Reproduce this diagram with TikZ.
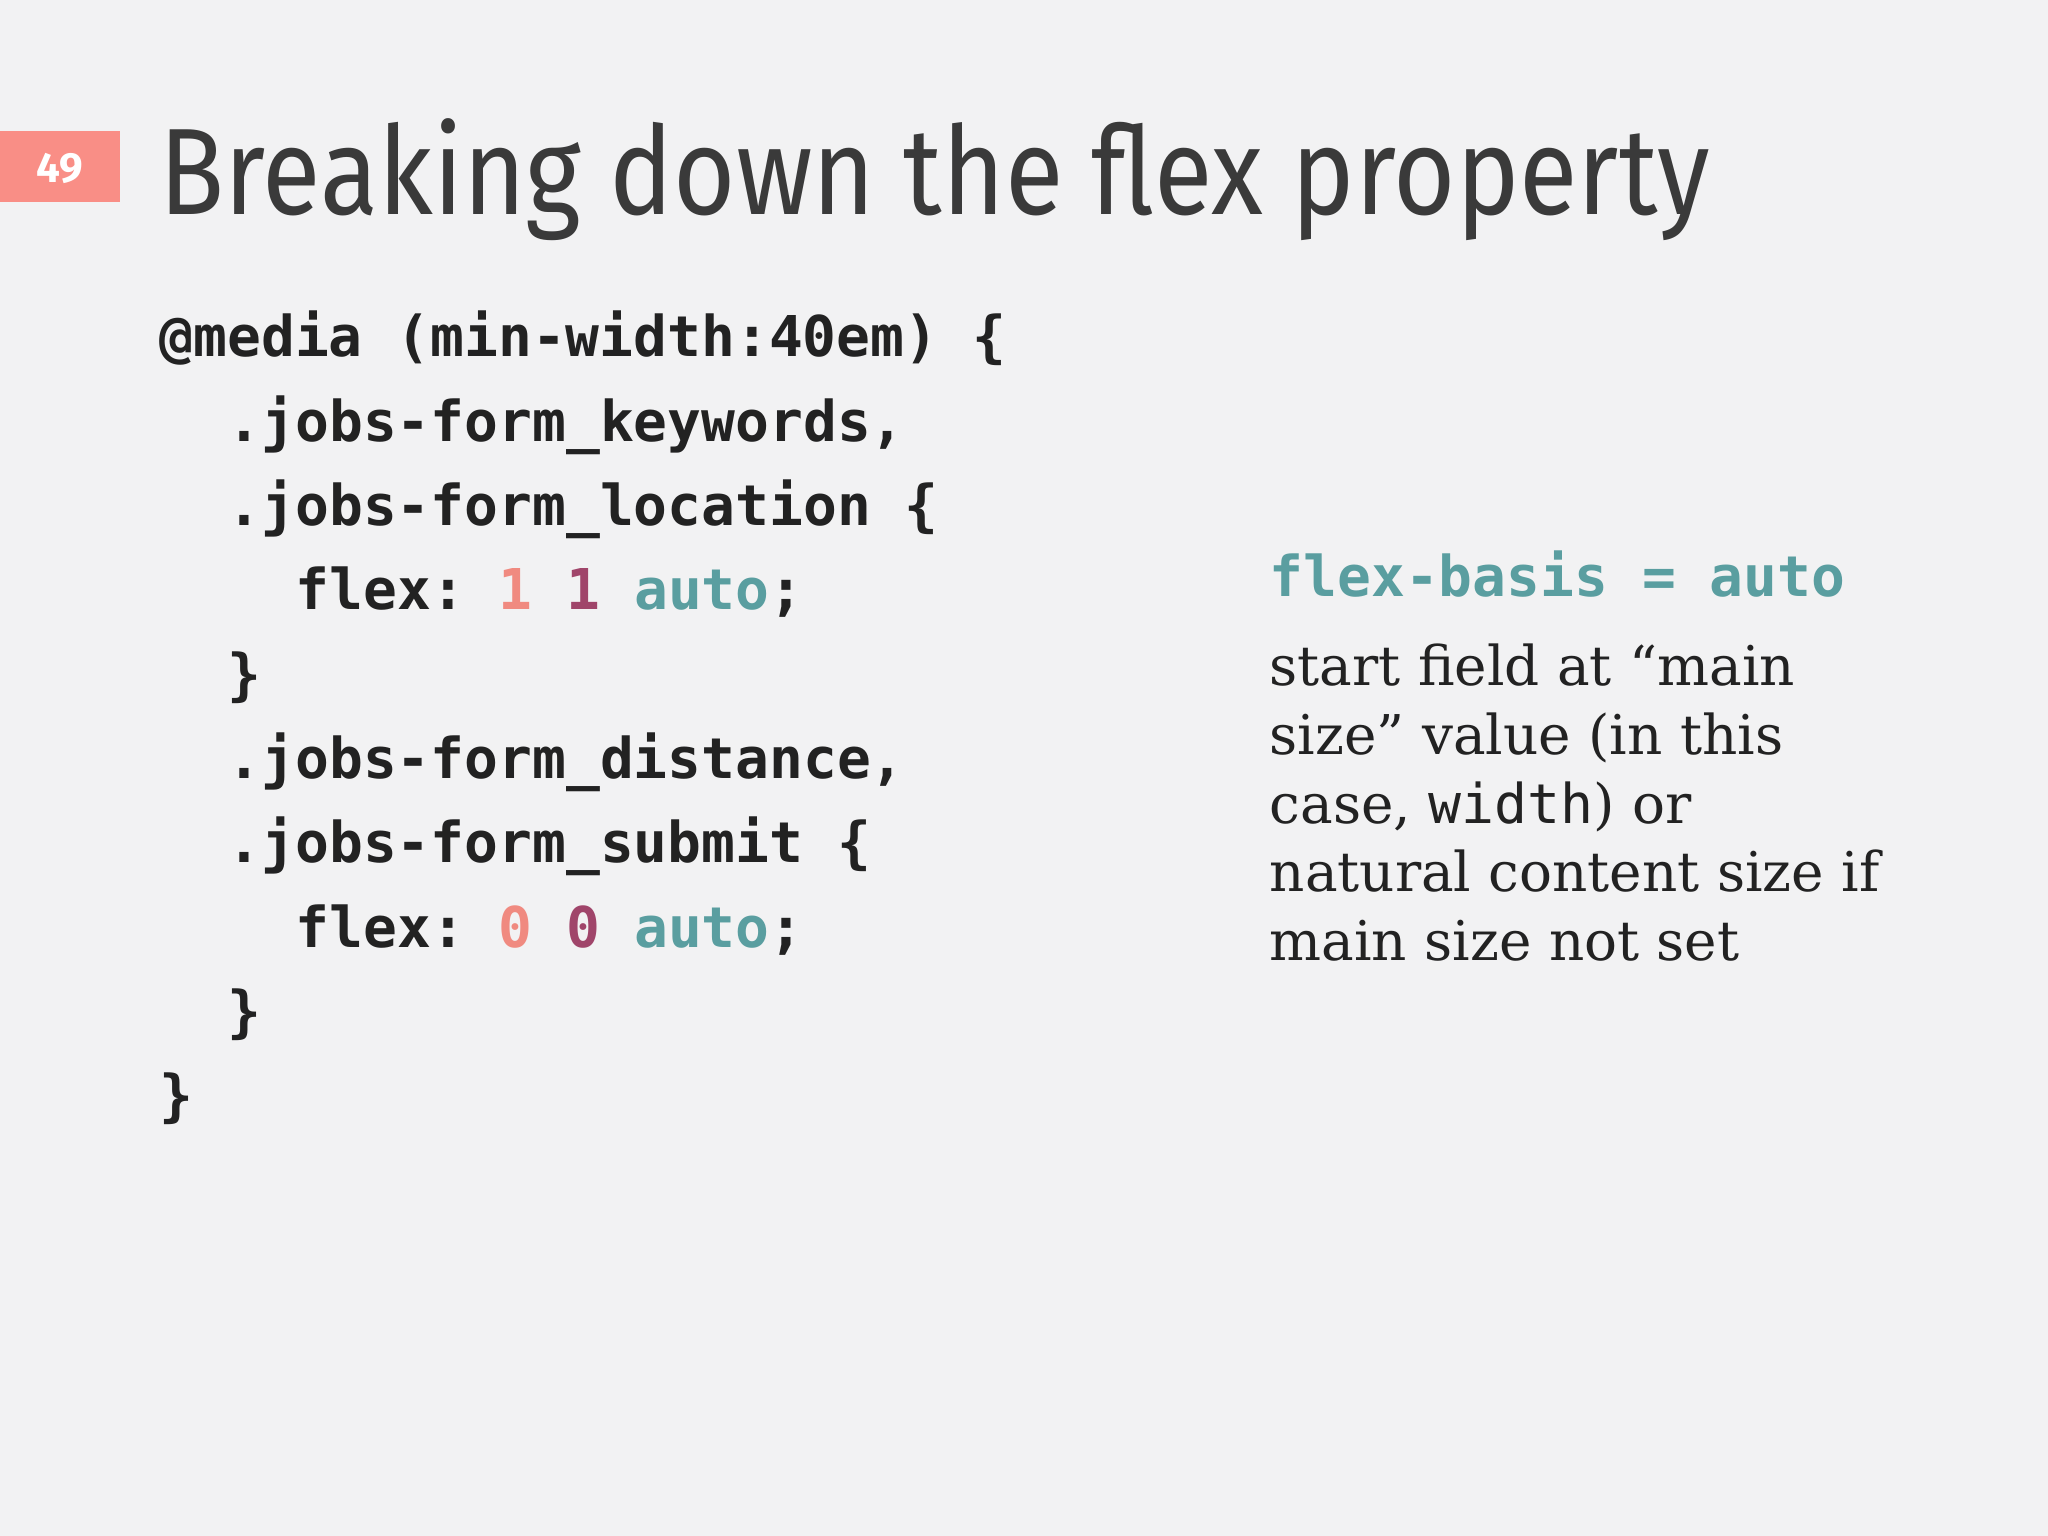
\documentclass[tikz,border=0pt]{standalone}
\usepackage{fontspec}
\setmainfont{DejaVu Serif}
\setsansfont{Fira Sans}
\setmonofont{DejaVu Sans Mono}
\definecolor{bg}{HTML}{F2F2F3}
\definecolor{badge}{HTML}{F98E86}
\definecolor{ink}{HTML}{222222}
\definecolor{tit}{HTML}{3A3A3A}
\definecolor{teal}{HTML}{5A9EA0}
\definecolor{sal}{HTML}{F08A80}
\definecolor{mar}{HTML}{A0456A}
\tikzset{code/.style={anchor=base west,inner sep=0,font=\fontsize{16}{16}\selectfont\ttfamily\bfseries,text=ink},
 body/.style={anchor=base west,inner sep=0,font=\fontsize{15.6}{16}\selectfont,text=ink}}
\begin{document}
\begin{tikzpicture}
\fill[bg] (0,0) rectangle (20.48,15.36);
\useasboundingbox (0,0) rectangle (20.48,15.36);
\fill[badge] (0,13.34) rectangle (1.20,14.05);
\node[text=white,font=\sffamily\bfseries\fontsize{12}{12}\selectfont] (num) at (0.60,13.68) {49};
\node[anchor=base west,inner sep=0,text=tit] (title) at (1.59,13.21) {\scalebox{1}[1.15]{\resizebox{15.5cm}{!}{\sffamily\fontsize{40}{40}\selectfont Breaking down the flex property}}};
\def\cx{1.59}\def\ch{0.34}\def\ly{0.843}
\node[code] (l1) at (\cx,11.79) {@media (min-width:40em) \{};
\node[code] (l2) at (\cx+2*\ch,11.79-\ly) {.jobs-form\_keywords,};
\node[code] (l3) at (\cx+2*\ch,11.79-2*\ly) {.jobs-form\_location \{};
\node[code] (l4) at (\cx+4*\ch,11.79-3*\ly) {flex: \textcolor{sal}{1} \textcolor{mar}{1} \textcolor{teal}{auto};};
\node[code] (l5) at (\cx+2*\ch,11.79-4*\ly) {\}};
\node[code] (l6) at (\cx+2*\ch,11.79-5*\ly) {.jobs-form\_distance,};
\node[code] (l7) at (\cx+2*\ch,11.79-6*\ly) {.jobs-form\_submit \{};
\node[code] (l8) at (\cx+4*\ch,11.79-7*\ly) {flex: \textcolor{sal}{0} \textcolor{mar}{0} \textcolor{teal}{auto};};
\node[code] (l9) at (\cx+2*\ch,11.79-8*\ly) {\}};
\node[code] (l10) at (\cx,11.79-9*\ly) {\}};
\node[code,text=teal] (fb) at (12.69,9.39) {flex-basis = auto};
\node[body] (d1) at (12.69,8.50) {start field at “main};
\node[body] (d2) at (12.69,8.50-0.686) {size” value (in this};
\node[body] (d3) at (12.69,8.50-2*0.686) {case, {\ttfamily width}) or};
\node[body] (d4) at (12.69,8.50-3*0.686) {natural content size if};
\node[body] (d5) at (12.69,8.50-4*0.686) {main size not set};
\end{tikzpicture}
\end{document}
